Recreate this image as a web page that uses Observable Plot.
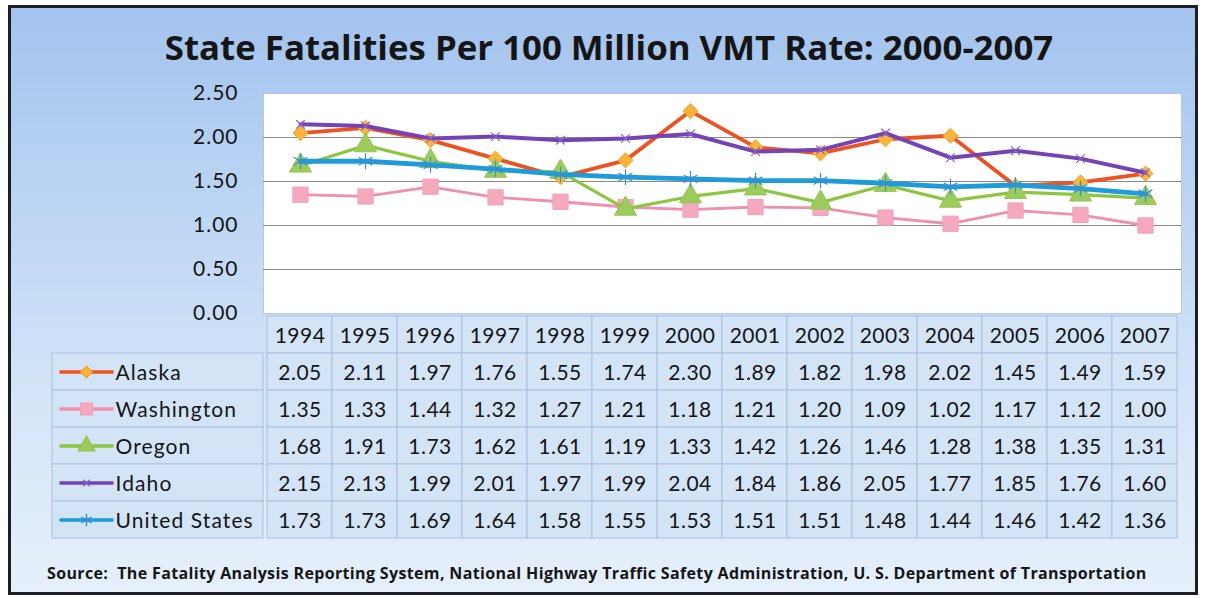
<!DOCTYPE html>
<html>
<head>
<meta charset="utf-8">
<script src="https://cdn.jsdelivr.net/npm/d3@7"></script>
<script src="https://cdn.jsdelivr.net/npm/@observablehq/plot@0.6"></script>
<style>
  html, body { margin: 0; padding: 0; background: #ffffff; }
  body { width: 1207px; height: 598px; position: relative; overflow: hidden; font-family: Lato, "Noto Sans", sans-serif; }
  #panel { position: absolute; left: 8px; top: 5px; width: 1184px; height: 584px; border: 3px solid #1c1f26;
    background: linear-gradient(to bottom, #a3c3ee 0%, #b9d3f3 30%, #d3e4f8 65%, #e6f0fb 100%); }
  #title { position: absolute; left: 0; width: 1218px; top: 23px; text-align: center; font-family: "Open Sans", "Noto Sans", sans-serif; font-weight: 700; font-size: 34.8px; color: #151515; }
  #source { position: absolute; left: 47px; top: 562px; font-family: "Open Sans", "Noto Sans", sans-serif; font-weight: 700; font-size: 16px; color: #151515; white-space: pre; letter-spacing: 0.35px; }
  .layer { position: absolute; left: 0; top: 0; }
  .layer svg { background: transparent !important; }
  #labels text { letter-spacing: 1.1px; }
  #table text { letter-spacing: 0.5px; }
  #chart text { letter-spacing: 1px; }
</style>
</head>
<body>
<div id="panel"></div>
<div id="title">State Fatalities Per 100 Million VMT Rate: 2000-2007</div>
<div id="chart" class="layer"></div>
<div id="table" class="layer"></div>
<div id="labels" class="layer"></div>
<div id="source">Source:  The Fatality Analysis Reporting System, National Highway Traffic Safety Administration, U. S. Department of Transportation</div>
<script>
// ---- data ----
const years = ["1994","1995","1996","1997","1998","1999","2000","2001","2002","2003","2004","2005","2006","2007"];
const seriesNames = ["Alaska", "Washington", "Oregon", "Idaho", "United States"];
const alaska     = [2.05, 2.11, 1.97, 1.76, 1.55, 1.74, 2.30, 1.89, 1.82, 1.98, 2.02, 1.45, 1.49, 1.59];
const washington = [1.35, 1.33, 1.44, 1.32, 1.27, 1.21, 1.18, 1.21, 1.20, 1.09, 1.02, 1.17, 1.12, 1.00];
const oregon     = [1.68, 1.91, 1.73, 1.62, 1.61, 1.19, 1.33, 1.42, 1.26, 1.46, 1.28, 1.38, 1.35, 1.31];
const idaho      = [2.15, 2.13, 1.99, 2.01, 1.97, 1.99, 2.04, 1.84, 1.86, 2.05, 1.77, 1.85, 1.76, 1.60];
const unitedStates = [1.73, 1.73, 1.69, 1.64, 1.58, 1.55, 1.53, 1.51, 1.51, 1.48, 1.44, 1.46, 1.42, 1.36];
const yTicks = [0, 0.5, 1.0, 1.5, 2.0, 2.5];

// ---- styles ----
const valuesBySeries = [alaska, washington, oregon, idaho, unitedStates];
const lineColors   = ["#ee5220", "#f08eab", "#8cc641", "#7443b6", "#1f9bd9"];
const markFill     = ["#fab43c", "#f5a9bf", "#9ccb5c", "none", "none"];
const markStroke   = ["#f5a623", "#f3a0b9", "#93c653", "#8a63c6", "#3a8fcf"];
const symbols      = ["diamond2", "square", "triangle", "times", "asterisk"];
const markR        = [6.8, 8.6, 8.2, 4, 7.5];
const lineW        = [3.8, 2.8, 3.2, 4, 4.8];

const rows = [];
seriesNames.forEach((name, s) => {
  years.forEach((year, i) => rows.push({name, year, value: valuesBySeries[s][i], s}));
});
const W = 1207, H = 598;
const fontFam = "Lato, 'Noto Sans', sans-serif";

// ---- chart ----
const chartMarks = [
  Plot.frame({fill: "white", stroke: "#b7c7db", strokeWidth: 1}),
  Plot.gridY(yTicks.filter(d => d > 0 && d < 2.5), {stroke: "#8a8a8a", strokeOpacity: 1, strokeWidth: 1}),
  Plot.axisY({ticks: yTicks, tickFormat: d3.format(".2f"), tickSize: 0, tickPadding: 25, fontSize: 21, label: null, color: "#151515"})
];
seriesNames.forEach((name, s) => {
  const d = rows.filter(r => r.s === s);
  chartMarks.push(Plot.line(d, {x: "year", y: "value", stroke: lineColors[s], strokeWidth: lineW[s], strokeLinejoin: "round"}));
  chartMarks.push(Plot.dot(d, {x: "year", y: "value", symbol: symbols[s], r: markR[s], fill: markFill[s], stroke: markStroke[s], strokeWidth: s >= 3 ? 1.2 : 1}));
});
const chart = Plot.plot({
  width: W, height: H,
  marginLeft: 263, marginRight: 26, marginTop: 93, marginBottom: H - 313,
  style: {background: "transparent", fontFamily: fontFam},
  x: {type: "point", domain: years, padding: 0.5, axis: null},
  y: {domain: [0, 2.5], axis: null},
  marks: chartMarks
});
document.getElementById("chart").append(chart);

// ---- data table ----
const tableRows = ["Year", ...seriesNames];
const headerCells = years.map(year => ({name: "Year", year, label: year}));
const valueCells = rows.map(r => ({name: r.name, year: r.year, label: r.value.toFixed(2)}));
const table = Plot.plot({
  width: W, height: H,
  marginLeft: 263, marginRight: 26, marginTop: 315, marginBottom: H - 538,
  style: {background: "transparent", fontFamily: fontFam},
  x: {type: "band", domain: years, padding: 0, axis: null},
  y: {type: "band", domain: tableRows, padding: 0, axis: null},
  marks: [
    Plot.cell([...headerCells, ...valueCells], {x: "year", y: "name", fill: "#d4e4f7", stroke: "#a9c0dc", strokeWidth: 1, inset: 0}),
    Plot.text([...headerCells, ...valueCells], {x: "year", y: "name", text: "label", fontSize: 21, fill: "#151515", dy: 1})
  ]
});
document.getElementById("table").append(table);

// ---- row labels with legend keys ----
const keyLine = {draw(ctx) { ctx.moveTo(-27, 0); ctx.lineTo(27, 0); }};
const labelData = seriesNames.map((name, s) => ({name, s}));
const labelMarks = [
  Plot.cell(labelData, {y: "name", fill: "#d4e4f7", stroke: "#a9c0dc", strokeWidth: 1})
];
labelData.forEach(d => {
  labelMarks.push(Plot.dot([d], {y: "name", frameAnchor: "left", dx: 34, symbol: keyLine, r: 5, stroke: lineColors[d.s], strokeWidth: 3.5}));
  labelMarks.push(Plot.dot([d], {y: "name", frameAnchor: "left", dx: 34, symbol: symbols[d.s], r: markR[d.s] * 0.75, fill: markFill[d.s], stroke: markStroke[d.s]}));
});
labelMarks.push(Plot.text(labelData, {y: "name", text: "name", frameAnchor: "left", dx: 63, textAnchor: "start", fontSize: 21, fill: "#151515", dy: 1}));
const labels = Plot.plot({
  width: W, height: H,
  marginLeft: 52, marginRight: W - 263, marginTop: 315 + (538 - 315) / 6, marginBottom: H - 538,
  style: {background: "transparent", fontFamily: fontFam},
  x: {axis: null},
  y: {type: "band", domain: seriesNames, padding: 0, axis: null},
  marks: labelMarks
});
document.getElementById("labels").append(labels);
</script>
</body>
</html>
